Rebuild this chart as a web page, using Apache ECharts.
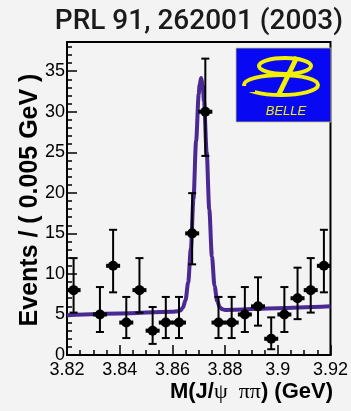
<!DOCTYPE html>
<html>
<head>
<meta charset="utf-8">
<script src="https://cdn.jsdelivr.net/npm/echarts@6/dist/echarts.min.js"></script>
<style>
  html, body { margin: 0; padding: 0; background: #f3f3f3; }
  #chart { width: 351px; height: 411px; }
</style>
</head>
<body>
<div id="chart"></div>
<script>
// Bin centres of the J/psi pi pi invariant mass histogram (GeV), 0.005 GeV bins
const massBins = [3.8225, 3.8275, 3.8325, 3.8375, 3.8425, 3.8475, 3.8525, 3.8575, 3.8625, 3.8675,
                  3.8725, 3.8775, 3.8825, 3.8875, 3.8925, 3.8975, 3.9025, 3.9075, 3.9125, 3.9175];
// Events per bin (null = empty bin, not drawn)
const events   = [8, null, 5, 11, 4, 8, 3, 4, 4, 15, 30, 4, 4, 5, 6, 2, 5, 7, 8, 11];
// Asymmetric (Poisson) error bars
const errLow   = [2.77, null, 2.16, 3.27, 1.91, 2.77, 1.63, 1.91, 1.91, 3.82, 5.45, 1.91, 1.91, 2.16, 2.38, 1.29, 2.16, 2.58, 2.77, 3.27];
const errHigh  = [3.95, null, 3.38, 4.44, 3.16, 3.95, 2.92, 3.16, 3.16, 4.96, 6.55, 3.16, 3.16, 3.38, 3.58, 2.64, 3.38, 3.77, 3.95, 4.44];

// Fit curve (signal peak on a linear background), sampled
const fitMass   = [3.82, 3.84, 3.86, 3.862, 3.863, 3.864, 3.865, 3.866, 3.867, 3.868, 3.869, 3.870, 3.8703,
                   3.8709, 3.8715, 3.872, 3.873, 3.874, 3.875, 3.876, 3.877, 3.878, 3.879, 3.88, 3.90, 3.92];
const fitEvents = [4.90, 5.12, 5.34, 5.39, 5.50, 5.84, 6.79, 8.98, 13.08, 19.25, 26.41, 32.19, 33.26,
                   34.15, 33.27, 31.29, 25.04, 17.94, 12.16, 8.50, 6.65, 5.88, 5.63, 5.56, 5.78, 6.00];

// Axis ticks and labels
const xTickValues = [3.82, 3.84, 3.86, 3.88, 3.90, 3.92];
const xTickLabels = ['3.82', '3.84', '3.86', '3.88', '3.9', '3.92'];
const yTickValues = [0, 5, 10, 15, 20, 25, 30, 35];
const yTickLabels = ['0', '5', '10', '15', '20', '25', '30', '35'];
const xMin = 3.82, xMax = 3.92, xMinorStep = 0.005;
const yMin = 0, yMax = 38.6, yMinorStep = 1;

const xMinorTicks = [];
for (let i = 0; xMin + i * xMinorStep <= xMax + 1e-9; i++) xMinorTicks.push(+(xMin + i * xMinorStep).toFixed(4));
const yMinorTicks = [];
for (let v = yMin; v <= yMax; v += yMinorStep) yMinorTicks.push(v);

function lookupLabel(values, labels, v) {
  let best = 0;
  for (let i = 1; i < values.length; i++) {
    if (Math.abs(values[i] - v) < Math.abs(values[best] - v)) best = i;
  }
  return Math.abs(values[best] - v) < 1e-6 ? labels[best] : '';
}

const pointData = [];
massBins.forEach((m, i) => {
  if (events[i] !== null) pointData.push([m, events[i], errLow[i], errHigh[i]]);
});
const fitData = fitMass.map((m, i) => [m, fitEvents[i]]);

const chart = echarts.init(document.getElementById('chart'), null, { renderer: 'canvas' });

const labelFont = 'Liberation Sans, Arial, Helvetica, sans-serif';
const logoYellow = '#f2f200';

chart.setOption({
  backgroundColor: '#f3f3f3',
  animation: false,
  grid: {
    left: 67, right: 17, top: 42, bottom: 56,
    show: true, borderColor: '#000', borderWidth: 2, backgroundColor: 'transparent'
  },
  xAxis: [
    {
      type: 'value', min: xMin, max: xMax,
      axisLine: { show: true, lineStyle: { color: '#000', width: 2 } },
      axisTick: { show: true, inside: true, length: 10, customValues: xTickValues, lineStyle: { color: '#000', width: 1.5 } },
      axisLabel: {
        customValues: xTickValues, margin: 6, color: '#000', fontSize: 18, fontFamily: labelFont,
        formatter: v => lookupLabel(xTickValues, xTickLabels, v)
      },
      splitLine: { show: false }
    },
    {
      type: 'value', min: xMin, max: xMax, position: 'bottom',
      axisLine: { show: false },
      axisTick: { show: true, inside: true, length: 5, customValues: xMinorTicks, lineStyle: { color: '#000', width: 1.5 } },
      axisLabel: { show: false },
      splitLine: { show: false }
    }
  ],
  yAxis: [
    {
      type: 'value', min: yMin, max: yMax,
      axisLine: { show: true, lineStyle: { color: '#000', width: 2 } },
      axisTick: { show: true, inside: true, length: 10, customValues: yTickValues, lineStyle: { color: '#000', width: 1.5 } },
      axisLabel: {
        customValues: yTickValues, margin: 2, color: '#000', fontSize: 18, fontFamily: labelFont,
        formatter: v => lookupLabel(yTickValues, yTickLabels, v)
      },
      splitLine: { show: false }
    },
    {
      type: 'value', min: yMin, max: yMax, position: 'left',
      axisLine: { show: false },
      axisTick: { show: true, inside: true, length: 5, customValues: yMinorTicks, lineStyle: { color: '#000', width: 1.5 } },
      axisLabel: { show: false },
      splitLine: { show: false }
    }
  ],
  series: [
    {
      type: 'line', name: 'fit', data: fitData,
      xAxisIndex: 0, yAxisIndex: 0,
      showSymbol: false, smooth: 0.3, smoothMonotone: 'x',
      lineStyle: { color: '#4a2a92', width: 4 },
      z: 2
    },
    {
      type: 'custom', name: 'data', data: pointData,
      xAxisIndex: 0, yAxisIndex: 0, z: 3,
      renderItem: (params, api) => {
        const x = api.value(0), y = api.value(1), lo = api.value(2), hi = api.value(3);
        const c = api.coord([x, y]);
        const t = api.coord([x, y + hi]);
        const b = api.coord([x, y - lo]);
        const st = { stroke: '#000', lineWidth: 2 };
        return {
          type: 'group',
          children: [
            { type: 'line', shape: { x1: c[0], y1: t[1], x2: c[0], y2: b[1] }, style: st },
            { type: 'line', shape: { x1: c[0] - 4, y1: t[1], x2: c[0] + 4, y2: t[1] }, style: st },
            { type: 'line', shape: { x1: c[0] - 4, y1: b[1], x2: c[0] + 4, y2: b[1] }, style: st },
            { type: 'rect', shape: { x: c[0] - 7, y: c[1] - 2, width: 14, height: 4 }, style: { fill: '#000' } },
            { type: 'circle', shape: { cx: c[0], cy: c[1], r: 5 }, style: { fill: '#000' } }
          ]
        };
      }
    }
  ],
  graphic: [
    {
      type: 'text', x: 343, y: 22, z: 10,
      style: {
        text: 'PRL 91, 262001 (2003)', align: 'right', verticalAlign: 'middle',
        font: '500 28px Roboto, "Noto Sans", sans-serif', fill: '#1a1a1a'
      }
    },
    {
      type: 'text', x: 30, y: 200, rotation: Math.PI / 2, z: 10,
      style: {
        text: 'Events / ( 0.005 GeV )', align: 'center', verticalAlign: 'middle',
        font: 'bold 25px ' + labelFont, fill: '#000'
      }
    },
    {
      type: 'text', x: 333, y: 392, z: 10,
      style: {
        text: '{b|M(J/}{g|ψ  ππ}{b|) (GeV)}', align: 'right', verticalAlign: 'middle',
        rich: {
          b: { font: 'bold 22px ' + labelFont, fill: '#000' },
          g: { font: '22px "Liberation Serif", "DejaVu Serif", serif', fill: '#000' }
        }
      }
    },
    // Belle logo
    {
      type: 'group', z: 20,
      children: [
        { type: 'rect', shape: { x: 236, y: 48, width: 95, height: 74 }, style: { fill: '#0808f2', stroke: '#c8c860', lineWidth: 0.8 } },
        { type: 'ellipse', shape: { cx: 285, cy: 66, rx: 26, ry: 8 }, style: { fill: 'none', stroke: logoYellow, lineWidth: 4 } },
        { type: 'ellipse', shape: { cx: 281, cy: 85, rx: 37, ry: 10 }, style: { fill: 'none', stroke: logoYellow, lineWidth: 4 } },
        { type: 'line', shape: { x1: 297, y1: 57, x2: 279, y2: 94 }, style: { stroke: logoYellow, lineWidth: 5 } },
        { type: 'rect', shape: { x: 240, y: 68, width: 16, height: 6 }, style: { fill: '#0808f2' } },
        { type: 'rect', shape: { x: 241, y: 86, width: 14, height: 6 }, style: { fill: '#0808f2' } },
        {
          type: 'text', x: 286, y: 111,
          style: { text: 'BELLE', align: 'center', verticalAlign: 'middle', font: 'italic 13px ' + labelFont, fill: logoYellow }
        }
      ]
    }
  ]
});
</script>
</body>
</html>
